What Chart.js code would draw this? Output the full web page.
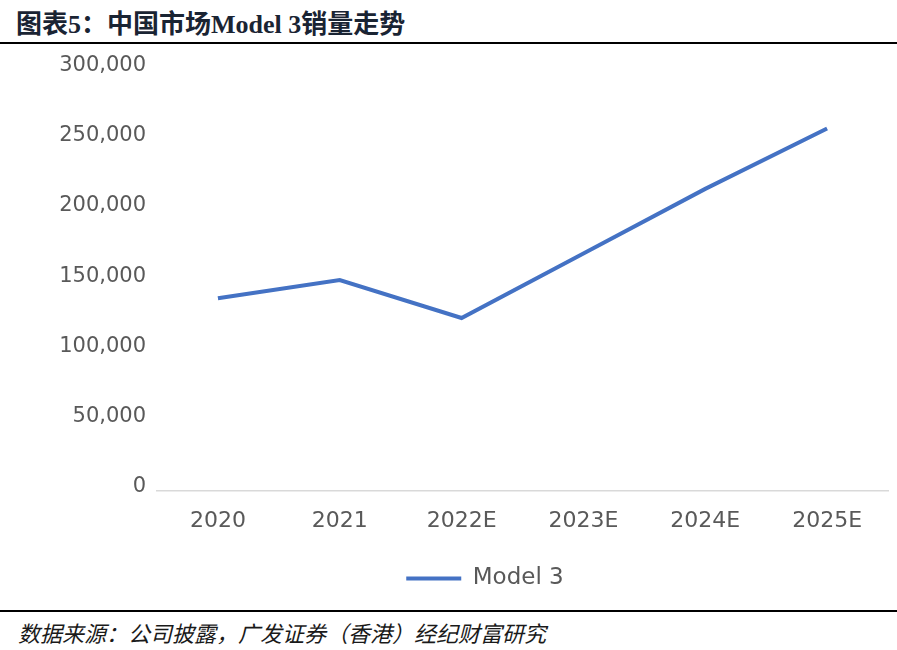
<!DOCTYPE html>
<html>
<head>
<meta charset="utf-8">
<script src="https://cdn.jsdelivr.net/npm/chart.js@4/dist/chart.umd.min.js"></script>
<style>
  body { margin: 0; background: #fff; width: 897px; height: 650px; position: relative; overflow: hidden; }
  #titulo { position: absolute; left: 16px; top: 3px; font: bold 26px "Liberation Serif", "Noto Sans CJK SC", serif; color: #1a2433; white-space: nowrap; }
  .regla { position: absolute; left: 0; width: 897px; height: 2px; background: #000; }
  #fuente { position: absolute; left: 18px; top: 616px; font: italic 22px "Noto Sans CJK SC", sans-serif; color: #1a1a1a; white-space: nowrap; }
  #marco { position: absolute; left: 0; top: 46px; width: 897px; height: 559px; }
</style>
</head>
<body>
<div id="titulo">图表5：中国市场Model 3销量走势</div>
<div class="regla" style="top:42px"></div>
<div id="marco"><canvas id="grafico"></canvas></div>
<div class="regla" style="top:610px"></div>
<div id="fuente">数据来源：公司披露，广发证券（香港）经纪财富研究</div>
<script>
const anios = ["2020", "2021", "2022E", "2023E", "2024E", "2025E"];
const ventasModel3 = [137000, 150000, 123000, 169000, 215000, 258000];
const nombreSerie = "Model 3";
const ejeMin = 0;
const ejeMax = 300000;
const ejePaso = 50000;

const gris = "#595959";
const azul = "#4472C4";

// la leyenda del original no esta centrada en el lienzo
const correrLeyenda = {
  id: "correrLeyenda",
  afterLayout(chart) {
    chart.legend.left += 41;
    chart.legend.right += 41;
  },
};

const datos = {
  labels: anios,
  datasets: [
    {
      label: nombreSerie,
      data: ventasModel3,
      borderColor: azul,
      backgroundColor: azul,
      borderWidth: 4,
      pointRadius: 0,
      tension: 0,
    },
  ],
};

const config = {
  type: "line",
  data: datos,
  plugins: [correrLeyenda],
  options: {
    responsive: true,
    maintainAspectRatio: false,
    animation: false,
    layout: { padding: { top: 9, right: 9, left: 0, bottom: 5 } },
    plugins: {
      tooltip: { enabled: false },
      legend: {
        position: "bottom",
        labels: {
          boxWidth: 55,
          boxHeight: 4,
          padding: 16,
          color: gris,
          font: { family: "DejaVu Sans", size: 23 },
          generateLabels: (chart) =>
            Chart.defaults.plugins.legend.labels.generateLabels(chart).map((item) => ({
              ...item,
              lineWidth: 0,
              strokeStyle: "rgba(0,0,0,0)",
            })),
        },
      },
    },
    scales: {
      x: {
        offset: true,
        grid: { display: false, drawTicks: false },
        border: { display: true, color: "#d9d9d9", width: 1.5 },
        ticks: { color: gris, padding: 17, font: { family: "DejaVu Sans", size: 22 } },
      },
      y: {
        min: ejeMin,
        max: ejeMax,
        grid: { display: false, drawTicks: false },
        border: { display: false },
        afterFit: (escala) => { escala.width = 157; },
        ticks: {
          stepSize: ejePaso,
          color: gris,
          padding: 11,
          labelOffset: -4,
          font: { family: "DejaVu Sans", size: 21 },
          callback: (v) => v.toLocaleString("en-US"),
        },
      },
    },
  },
};

const lienzo = document.getElementById("grafico");
new Chart(lienzo, config);
</script>
</body>
</html>
